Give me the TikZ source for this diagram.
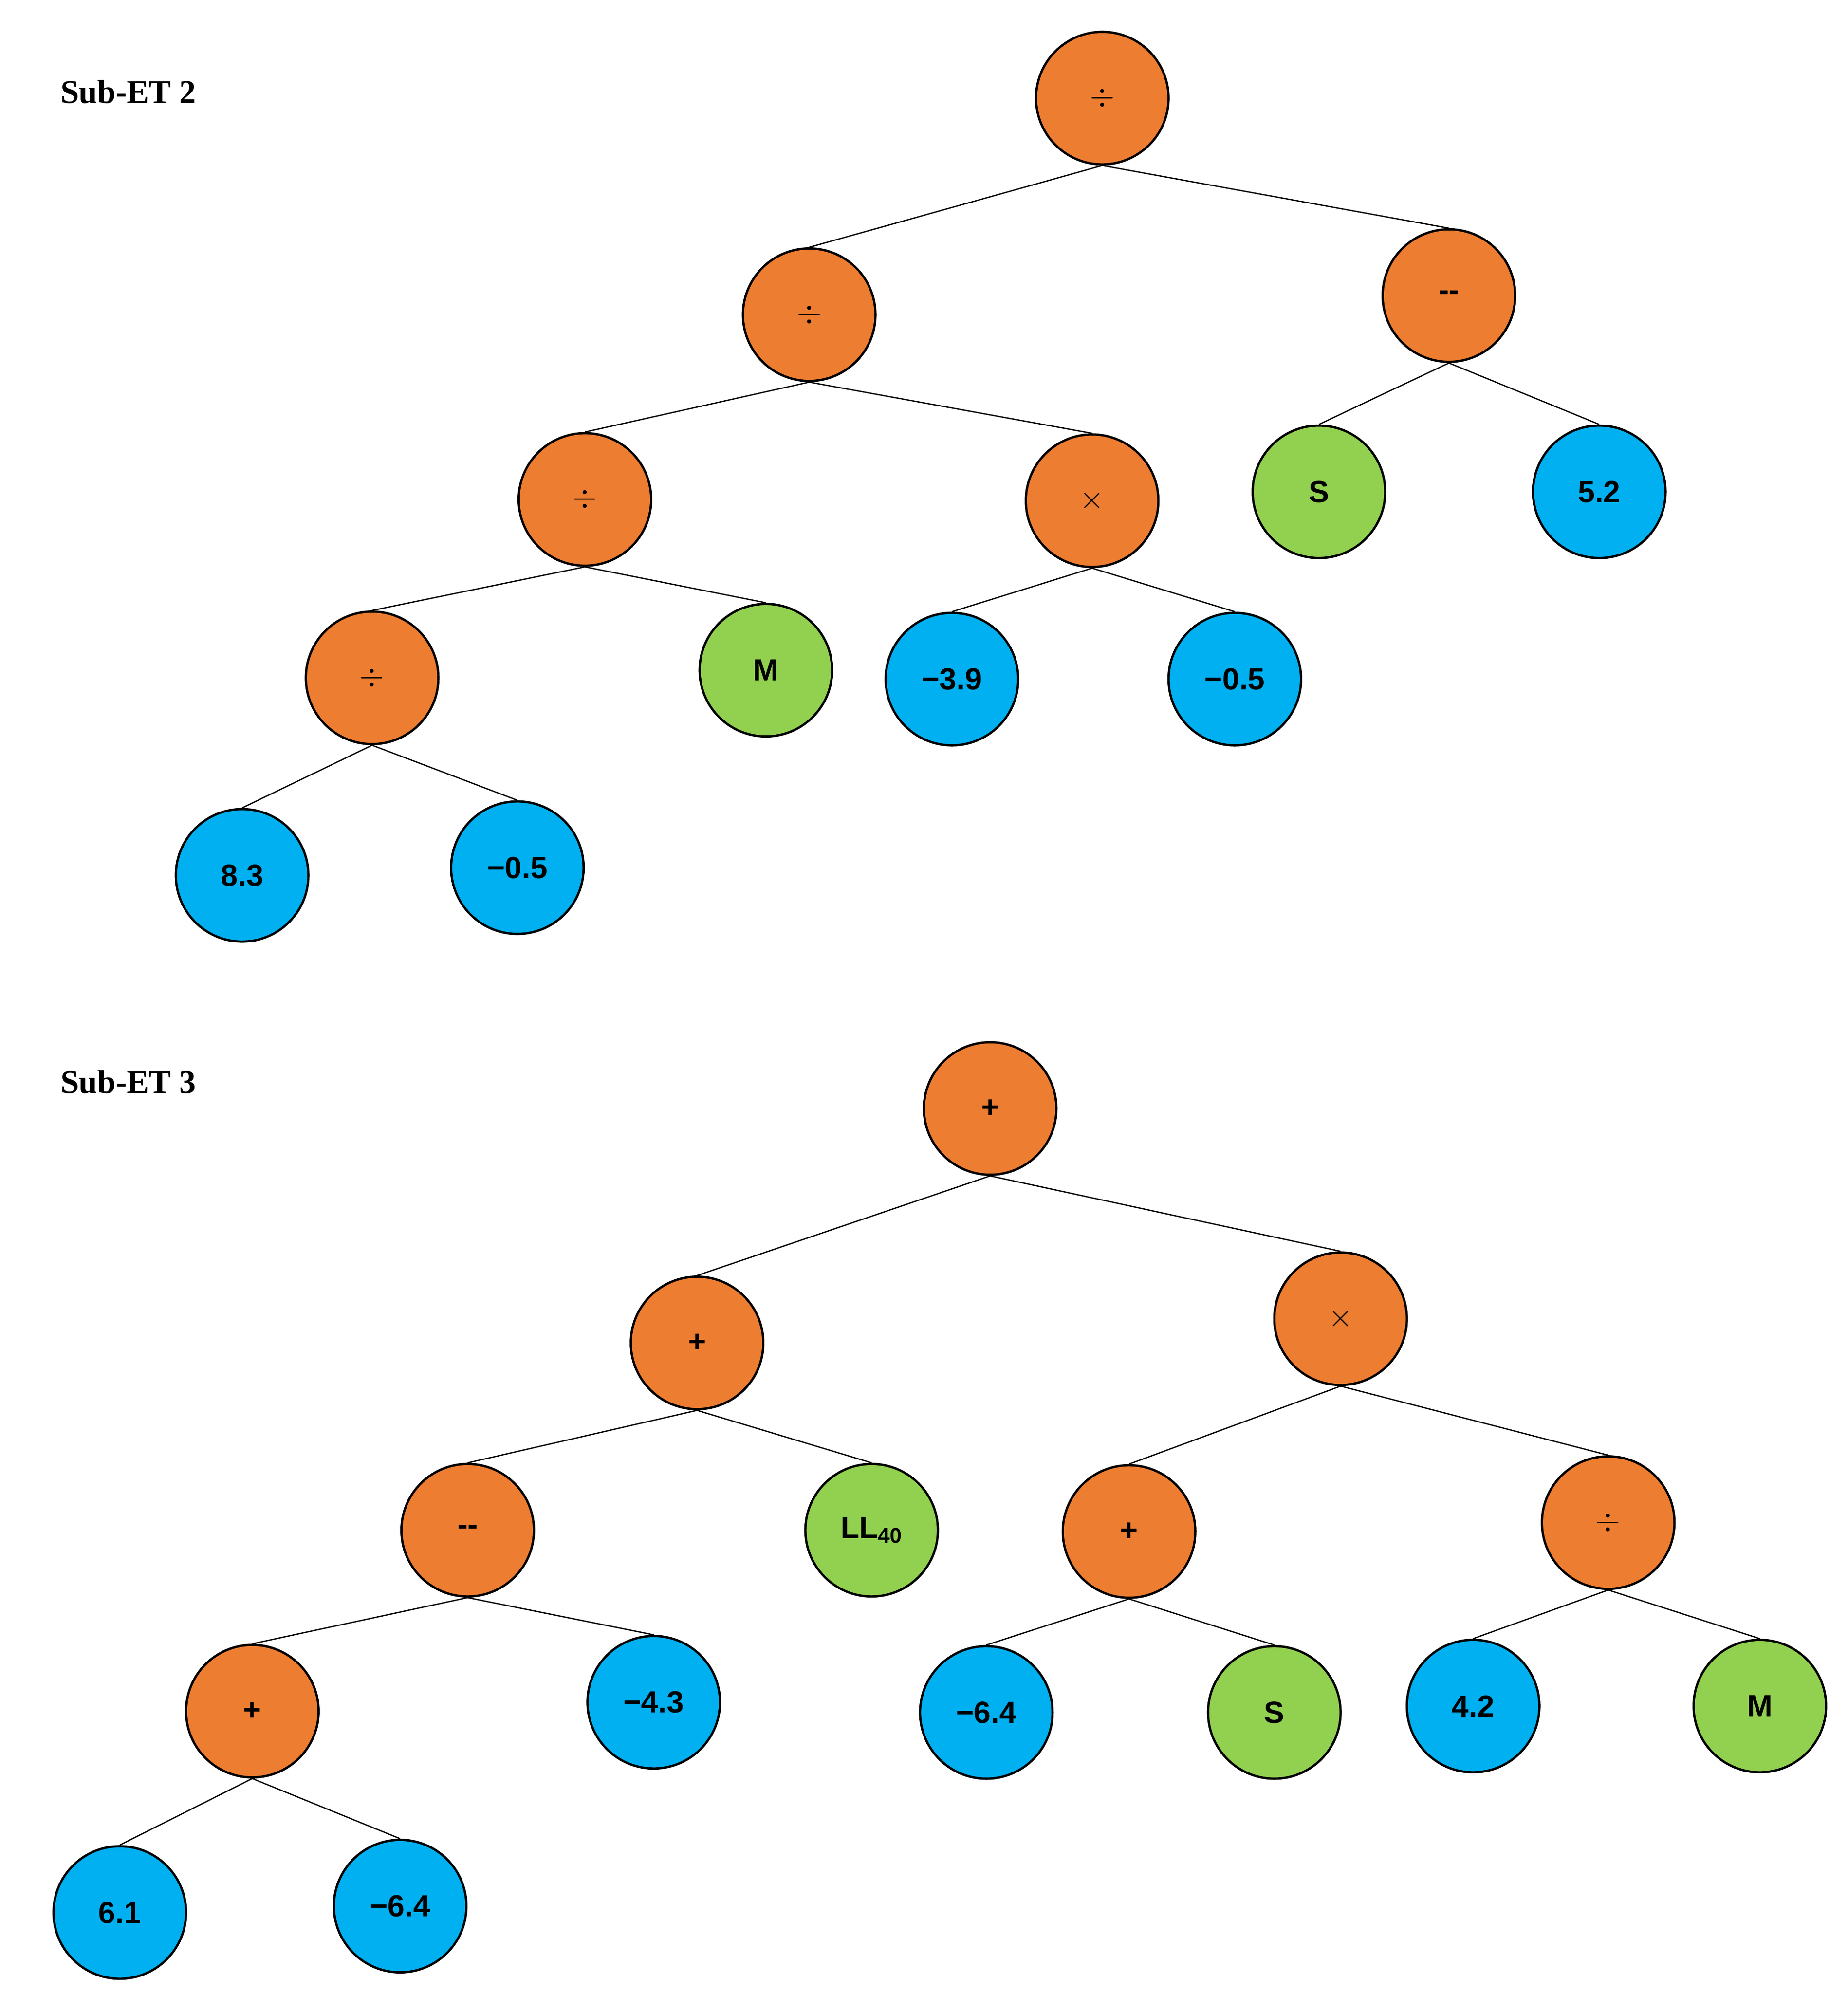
\documentclass[tikz,border=0pt]{standalone}
\usepackage{fontspec}
\setmainfont{Liberation Serif}
\newfontfamily\ar{Liberation Sans}
\begin{document}
\begin{tikzpicture}[x=1pt,y=-1pt,
 nd/.style={circle,draw=black,line width=1.8pt,minimum size=104pt,inner sep=0pt,font=\ar\bfseries\fontsize{24}{28}\selectfont},
 op/.style={nd,fill={rgb,255:red,237;green,125;blue,49}},
 num/.style={nd,fill={rgb,255:red,0;green,176;blue,240}},
 var/.style={nd,fill={rgb,255:red,146;green,208;blue,80}},
 ed/.style={line width=1pt},
 ttl/.style={anchor=west,font=\bfseries\fontsize{26}{30}\selectfont}]
\useasboundingbox (0,0) rectangle (1450,1565);
\node[ttl] (t2) at (44,72) {Sub-ET 2};
\node[ttl] (t3) at (44,849) {Sub-ET 3};
% Sub-ET 2
\node[op] (a0) at (865,77) {$\div$};
\node[op] (a1) at (635,247) {$\div$};
\node[op] (a2) at (1137,232) {\textbf{--}};
\node[op] (a3) at (459,392) {$\div$};
\node[op] (a4) at (857,393) {$\times$};
\node[var] (a5) at (1035,386) {S};
\node[num] (a6) at (1255,386) {5.2};
\node[op] (a7) at (292,532) {$\div$};
\node[var] (a8) at (601,526) {M};
\node[num] (a9) at (747,533) {−3.9};
\node[num] (a10) at (969,533) {−0.5};
\node[num] (a11) at (190,687) {8.3};
\node[num] (a12) at (406,681) {−0.5};
\foreach \p/\c in {a0/a1,a0/a2,a1/a3,a1/a4,a2/a5,a2/a6,a3/a7,a3/a8,a4/a9,a4/a10,a7/a11,a7/a12}
  \draw[ed] (\p.south) -- (\c.north);
% Sub-ET 3
\node[op] (b0) at (777,870) {+};
\node[op] (b1) at (547,1054) {+};
\node[op] (b2) at (1052,1035) {$\times$};
\node[op] (b3) at (367,1201) {--};
\node[var] (b4) at (684,1201) {LL\textsubscript{40}};
\node[op] (b5) at (886,1202) {+};
\node[op] (b6) at (1262,1195) {$\div$};
\node[op] (b7) at (198,1343) {+};
\node[num] (b8) at (513,1336) {−4.3};
\node[num] (b9) at (774,1344) {−6.4};
\node[var] (b10) at (1000,1344) {S};
\node[num] (b11) at (1156,1339) {4.2};
\node[var] (b12) at (1381,1339) {M};
\node[num] (b13) at (94,1501) {6.1};
\node[num] (b14) at (314,1496) {−6.4};
\foreach \p/\c in {b0/b1,b0/b2,b1/b3,b1/b4,b2/b5,b2/b6,b3/b7,b3/b8,b5/b9,b5/b10,b6/b11,b6/b12,b7/b13,b7/b14}
  \draw[ed] (\p.south) -- (\c.north);
\end{tikzpicture}
\end{document}
